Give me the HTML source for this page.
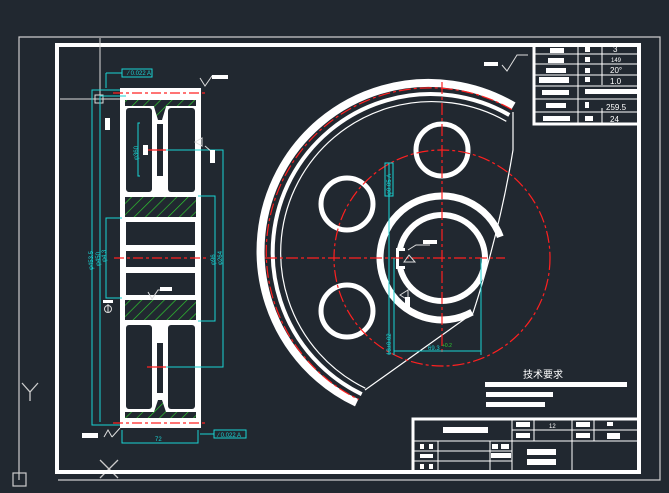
<!DOCTYPE html>
<html><head><meta charset="utf-8"><style>
html,body{margin:0;padding:0;background:#212830;width:669px;height:493px;overflow:hidden}
svg{display:block}
text{font-family:"Liberation Sans","Noto Sans CJK SC",sans-serif}
</style></head><body>
<svg width="669" height="493" viewBox="0 0 669 493" xmlns="http://www.w3.org/2000/svg">
<defs>
<pattern id="h" width="8" height="8" patternUnits="userSpaceOnUse" patternTransform="rotate(45)">
<rect width="8" height="8" fill="#212830"/><line x1="0" y1="0" x2="0" y2="8" stroke="#2fd02f" stroke-width="1.3"/>
</pattern>
</defs>
<polyline points="19,400 19,37 660,37 660,480 58,480" fill="none" stroke="#ccc" stroke-width="1.2"/>
<rect x="13" y="473" width="13" height="13" fill="none" stroke="#ccc" stroke-width="1.2"/>
<line x1="19" y1="400" x2="19" y2="480" stroke="#ccc" stroke-width="1.2"/>
<path d="M22,383 L30,392 L38,383 M30,392 L30,401" stroke="#ccc" fill="none" stroke-width="1.3"/>
<path d="M100,460 L118,478 M118,460 L100,478" stroke="#ccc" stroke-width="1.3"/>
<rect x="57" y="45" width="582" height="427" fill="none" stroke="#fff" stroke-width="4"/>

<line x1="100" y1="38" x2="100" y2="145" stroke="#ddd" stroke-width="1"/>
<line x1="60" y1="99" x2="120" y2="99" stroke="#ddd" stroke-width="1"/>
<rect x="95" y="95" width="8" height="8" fill="none" stroke="#ddd"/>

<!-- LEFT VIEW -->
<rect x="120" y="88" width="81" height="340" fill="#fff"/>
<g fill="#212830">
<rect x="126" y="108" width="26" height="84" rx="3"/>
<rect x="168" y="108" width="27" height="84" rx="3"/>
<rect x="157" y="124" width="6" height="52"/>
<rect x="126" y="222" width="69" height="23"/>
<rect x="126" y="251" width="69" height="16"/>
<rect x="126" y="273" width="69" height="22"/>
<rect x="126" y="325" width="26" height="84" rx="3"/>
<rect x="168" y="325" width="27" height="84" rx="3"/>
<rect x="157" y="343" width="6" height="50"/>
</g>
<rect x="125" y="197" width="71" height="20" fill="url(#h)"/>
<rect x="125" y="300" width="71" height="20" fill="url(#h)"/>
<rect x="125" y="100" width="71" height="6" fill="url(#h)"/>
<rect x="125" y="412" width="71" height="6" fill="url(#h)"/>
<path d="M152,100 L168,100 L162,120 L158,120 Z" fill="url(#h)"/>
<path d="M152,418 L168,418 L162,400 L158,400 Z" fill="url(#h)"/>
<g stroke="#ff2020" stroke-width="1.2" stroke-dasharray="10,3,3,3">
<line x1="113" y1="93" x2="207" y2="93"/>
<line x1="113" y1="423" x2="207" y2="423"/>
<line x1="114" y1="258" x2="207" y2="258"/>
</g>
<line x1="147" y1="150" x2="166" y2="150" stroke="#f22" stroke-width="1.2"/>
<line x1="147" y1="367" x2="166" y2="367" stroke="#f22" stroke-width="1.2"/>
<g stroke="#19d3d3" stroke-width="1" fill="none">
<polyline points="120,90 92,90 92,425 120,425"/>
<polyline points="126,96 100,96 100,422"/>
<polyline points="122,218 106,218 106,298 122,298"/>
<polyline points="140,123 138,123 138,176 140,176"/>
<polyline points="198,196 215,196 215,321 198,321"/>
<polyline points="166,150 223,150 223,367 166,367"/>
<polyline points="122,430 122,443 198,443 198,430"/>
<polyline points="106,73 106,88"/>
<polyline points="106,73 122,73"/>
<rect x="122" y="69" width="30" height="8"/>
<rect x="214" y="430" width="32" height="8"/>
<line x1="200" y1="434" x2="214" y2="434"/>
</g>
<g fill="#19d3d3" font-size="6">
<text x="128" y="75">⁄ 0.022 A</text>
<text x="218" y="437">⁄ 0.022 A</text>
<text x="155" y="441">72</text>
<text transform="translate(93,270) rotate(-90)">φ453.5</text>
<text transform="translate(100,266) rotate(-90)">φ450</text>
<text transform="translate(106,262) rotate(-90)">φ4 3</text>
<text transform="translate(138,160) rotate(-90)">φ360</text>
<text transform="translate(215,265) rotate(-90)">φ96</text>
<text transform="translate(222,265) rotate(-90)">φ264</text>
</g>
<g stroke="#ddd" fill="none" stroke-width="1">
<path d="M200,78 L205,86 L212,76 L228,76"/>
<path d="M148,292 L152,299 L158,290 L172,290"/>
<path d="M104,437 L108,430 L112,437 M112,437 L120,428"/>
<path d="M195,142 L202,138 L202,146 Z"/>
<path d="M205,146 L212,152"/>
</g>
<g fill="#fff">
<rect x="212" y="75" width="16" height="4"/><rect x="160" y="287" width="12" height="4"/>
<rect x="82" y="433" width="16" height="5"/><rect x="105" y="118" width="5" height="12"/>
<rect x="210" y="150" width="5" height="13"/><rect x="143" y="145" width="5" height="10"/>
<rect x="103" y="300" width="10" height="3"/>
</g>
<circle cx="108" cy="309" r="3.5" fill="none" stroke="#ddd"/>
<line x1="108" y1="304" x2="108" y2="312" stroke="#ddd"/>

<!-- RIGHT VIEW center 442,258 -->
<g fill="none" stroke="#fff">
<path d="M513.5,106 A168,168 0 1 0 356.7,402.8" stroke-width="8"/>
<path d="M509.3,115 A158,158 0 1 0 361.7,394.2" stroke-width="4"/>
<path d="M506.3,121.3 A151,151 0 1 0 365.3,388.2" stroke-width="1.2"/>
<path d="M513,112 L513,150 Q500,230 473,313 L365,390" stroke-width="1.2"/>
<circle cx="442" cy="150" r="26" stroke-width="5"/>
<circle cx="347" cy="204" r="26" stroke-width="5"/>
<circle cx="347" cy="311" r="26" stroke-width="5"/>
<path d="M500.3,236.8 A62,62 0 1 0 472,312.2" stroke-width="7"/>
<circle cx="442" cy="258" r="43" stroke-width="6"/>
</g>
<rect x="396" y="248" width="9" height="21" fill="#fff"/>
<rect x="399" y="251" width="6" height="15" fill="#212830"/>
<g stroke="#ff2020" stroke-width="1.2" fill="none" stroke-dasharray="12,3,3,3">
<path d="M511.9,109.6 A164,164 0 1 0 358.7,399.4"/>
<circle cx="442" cy="258" r="108"/>
<line x1="265" y1="258" x2="505" y2="258"/>
<line x1="442" y1="82" x2="442" y2="355"/>
</g>
<g stroke="#19d3d3" stroke-width="1" fill="none">
<line x1="389" y1="163" x2="389" y2="355"/>
<line x1="394" y1="258" x2="394" y2="355"/>
<line x1="481" y1="258" x2="481" y2="355"/>
<line x1="394" y1="351" x2="481" y2="351"/>
<rect x="385" y="163" width="8" height="33"/>
</g>
<g fill="#19d3d3" font-size="6">
<text x="428" y="350">69.3</text>
<text transform="translate(391,195) rotate(-90)">φ0.05 A</text>
<text transform="translate(391,355) rotate(-90)">18±0.02</text>
</g>
<text x="442" y="347" fill="#2fd02f" font-size="5">+0.2</text>
<g stroke="#ddd" fill="none" stroke-width="1">
<path d="M408,250 L416,245 L430,245"/><path d="M404,262 L409,255 L415,262 Z"/>
<path d="M400,295 L408,290 L408,300 Z"/>
<path d="M502,65 L507,71 L517,55 L528,55"/>
</g>
<rect x="423" y="240" width="14" height="4" fill="#fff"/>
<rect x="405" y="297" width="5" height="12" fill="#fff"/>
<rect x="484" y="62" width="14" height="4" fill="#fff"/>

<!-- top right table -->
<g stroke="#fff" fill="none">
<rect x="534" y="45" width="105" height="79" stroke-width="3"/>
<line x1="578" y1="45" x2="578" y2="124" stroke-width="1"/>
<line x1="602" y1="45" x2="602" y2="85" stroke-width="1"/>
<line x1="602" y1="108" x2="602" y2="124" stroke-width="1"/>
<line x1="534" y1="54" x2="639" y2="54"/><line x1="534" y1="64" x2="639" y2="64"/>
<line x1="534" y1="75" x2="639" y2="75"/><line x1="534" y1="86" x2="639" y2="86"/>
<line x1="534" y1="99" x2="639" y2="99"/><line x1="534" y1="112" x2="639" y2="112"/>
</g>
<g fill="#fff">
<rect x="550" y="48" width="14" height="5"/><rect x="548" y="58" width="16" height="5"/>
<rect x="546" y="68" width="20" height="5"/><rect x="539" y="77" width="30" height="6"/>
<rect x="542" y="90" width="27" height="5"/><rect x="546" y="103" width="20" height="5"/>
<rect x="543" y="116" width="27" height="5"/>
<rect x="585" y="47" width="5" height="5"/><rect x="585" y="57" width="5" height="5"/>
<rect x="585" y="68" width="5" height="5"/><rect x="585" y="77" width="5" height="5"/>
<rect x="585" y="89" width="52" height="5"/><rect x="585" y="102" width="4" height="6"/>
<rect x="585" y="116" width="8" height="5"/>
</g>
<g fill="#fff" font-size="8">
<text x="613" y="52">3</text><text x="611" y="62" font-size="6">149</text>
<text x="610" y="73">20°</text><text x="610" y="84">1.0</text>
<text x="606" y="110">259.5</text><text x="610" y="122">24</text>
</g>

<text x="523" y="378" fill="#fff" font-size="10">技术要求</text>
<g fill="#fff">
<rect x="485" y="382" width="142" height="5"/><rect x="486" y="392" width="67" height="5"/>
<rect x="486" y="402" width="59" height="5"/>
</g>

<g stroke="#fff" fill="none" stroke-width="1">
<polyline points="413,472 413,419 639,419" stroke-width="3"/>
<line x1="413" y1="441" x2="639" y2="441"/>
<line x1="512" y1="419" x2="512" y2="472"/>
<line x1="534" y1="419" x2="534" y2="441"/>
<line x1="572" y1="419" x2="572" y2="472"/>
<line x1="594" y1="419" x2="594" y2="441"/>
<line x1="512" y1="430" x2="639" y2="430"/>
<line x1="413" y1="451" x2="512" y2="451"/>
<line x1="413" y1="461" x2="512" y2="461"/>
<line x1="438" y1="441" x2="438" y2="472"/>
<line x1="490" y1="441" x2="490" y2="472"/>
</g>
<g fill="#fff">
<rect x="443" y="427" width="45" height="6"/>
<rect x="516" y="422" width="14" height="5"/><rect x="516" y="433" width="14" height="5"/>
<rect x="576" y="422" width="14" height="5"/><rect x="576" y="433" width="14" height="5"/>
<rect x="607" y="422" width="6" height="4"/><rect x="607" y="433" width="13" height="6"/>
<rect x="420" y="444" width="4" height="5"/><rect x="429" y="444" width="4" height="5"/>
<rect x="420" y="454" width="13" height="4"/><rect x="420" y="464" width="4" height="5"/>
<rect x="429" y="464" width="4" height="5"/>
<rect x="492" y="444" width="6" height="5"/><rect x="501" y="444" width="8" height="5"/>
<rect x="491" y="453" width="20" height="5"/>
<rect x="527" y="449" width="29" height="6"/><rect x="527" y="459" width="29" height="6"/>
</g>
<text x="549" y="428" fill="#fff" font-size="6">12</text>
</svg>
</body></html>
